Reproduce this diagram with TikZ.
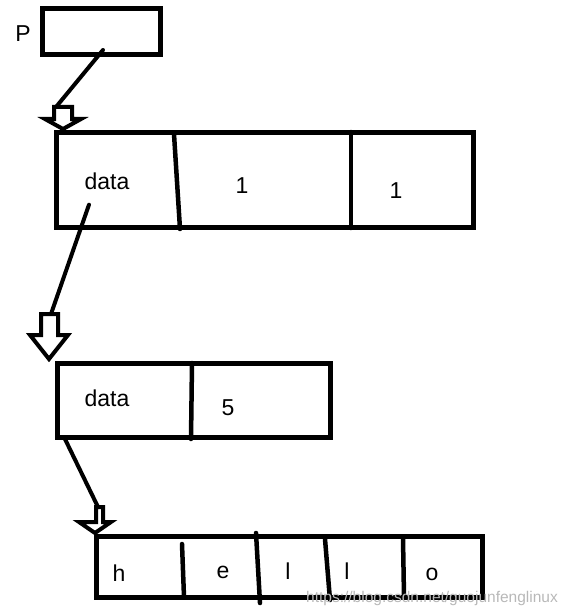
\documentclass[tikz,border=0pt]{standalone}
\usepackage{fontspec}
\setmainfont{Liberation Sans}
\usetikzlibrary{calc}
\tikzset{
  cell/.style={draw=black, line width=5pt, anchor=north west, inner sep=0pt, outer sep=0pt},
  sep/.style={draw=black, line width=4.5pt, line cap=round},
  link/.style={draw=black, line width=4pt, line cap=round},
  hollow/.style={draw=black, line width=4pt, line join=miter, fill=white},
  lbl/.style={font=\fontsize{23}{27}\selectfont, text=black, inner sep=0pt},
  wm/.style={font=\fontsize{15.5}{18}\selectfont, text=black!28, inner sep=0pt, anchor=west},
}

\begin{document}
\begin{tikzpicture}[x=1pt, y=-1pt]
\useasboundingbox (0,0) rectangle (575,615);

% ---------------- pointer P ----------------
\node[cell, minimum width=118pt, minimum height=46pt] (p) at (42,9) {};
\node[lbl] (plbl) at (23,34) {P};

% ---------------- first node: data | 1 | 1 ----------------
\node[cell, minimum width=417pt, minimum height=95pt] (n1) at (56,132) {};
\draw[sep] (174,134) -- (180,229);
\draw[sep] (351,132) -- (351,228);
\node[lbl] (n1data) at (107,181) {data};
\node[lbl] (n1a) at (242,186) {1};
\node[lbl] (n1b) at (396,191) {1};

% ---------------- second node: data | 5 ----------------
\node[cell, minimum width=273pt, minimum height=74pt] (n2) at (57,363) {};
\draw[sep] (192,363) -- (191,439);
\node[lbl] (n2data) at (107,398) {data};
\node[lbl] (n2a) at (228,408) {5};

% ---------------- string: h e l l o ----------------
\node[cell, minimum width=386pt, minimum height=61pt] (s) at (96,536) {};
\draw[sep] (182,544) -- (184,597);
\draw[sep] (256,533) -- (260,603);
\draw[sep] (325,539) -- (330,600);
\draw[sep] (403,538) -- (404,597);
\node[lbl] (sh) at (119,573) {h};
\node[lbl] (se) at (223,572) {e};
\node[lbl] (sl1) at (288,571) {l};
\node[lbl] (sl2) at (347,571) {l};
\node[lbl] (so) at (432,574) {o};

% ---------------- hollow arrows ----------------
\draw[hollow] (54,107) -- (72,107) -- (72,119) -- (81,119) -- (63,129) -- (45,119) -- (54,119) -- cycle;
\coordinate (a1) at (56,107);
\draw[hollow] (41,314) -- (58,314) -- (58,335) -- (68,335) -- (49,359) -- (30,335) -- (41,335) -- cycle;
\coordinate (a2) at (51,314);
\draw[hollow] (96,507) -- (103,507) -- (103,522) -- (111,522) -- (95,533) -- (79,522) -- (96,522) -- cycle;
\coordinate (a3) at (98,507);

% ---------------- links ----------------
\coordinate (p0) at ($(p.south)+(2,-5)$);
\coordinate (d1) at ($(n1data.south)+(-18,15)$);
\coordinate (d2) at ($(n2.south west)+(7,0)$);
\draw[link] (p0) -- (a1);
\draw[link] (d1) -- (a2);
\draw[link] (d2) -- (a3);

% ---------------- watermark ----------------
\node[wm] (url) at (306,598) {https://blog.csdn.net/guojunfenglinux};

\end{tikzpicture}
\end{document}
